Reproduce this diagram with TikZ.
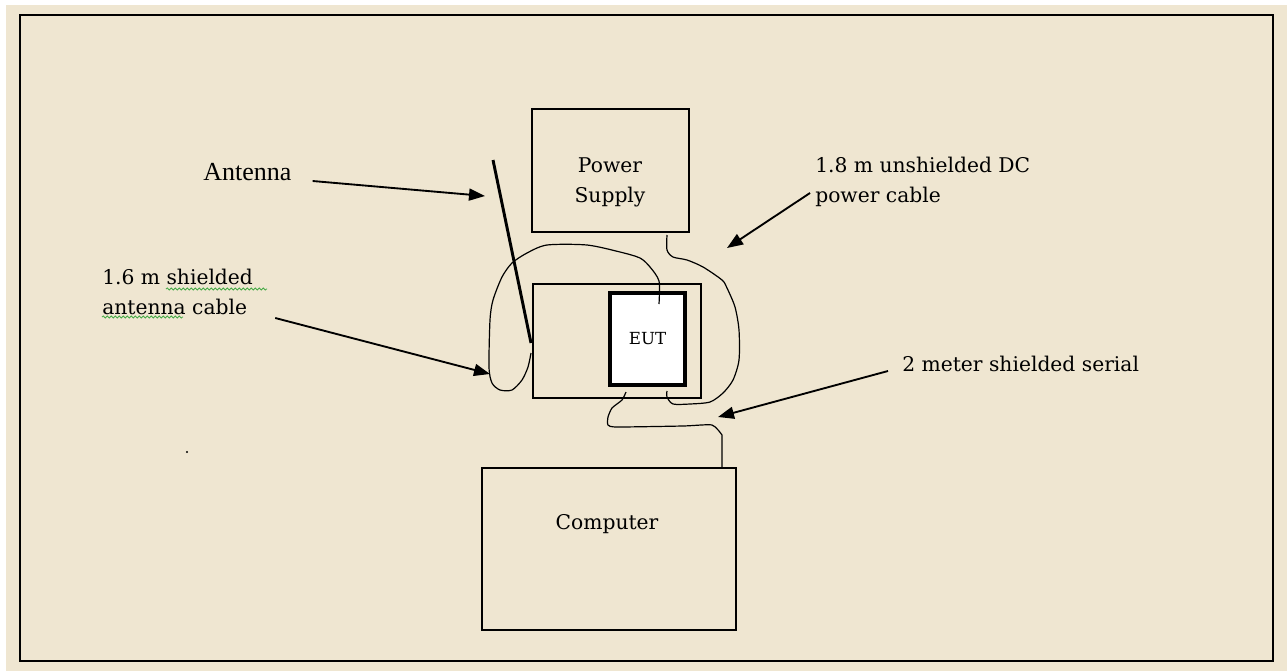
\documentclass[tikz,border=0pt]{standalone}
\usepackage{fontspec}
\setmainfont{DejaVu Serif}
\newfontfamily\timesfont{Liberation Serif}
\usetikzlibrary{arrows.meta, calc, decorations.pathmorphing}
\definecolor{paper}{RGB}{239,230,209}
\definecolor{squiggle}{RGB}{70,170,70}
\tikzset{
  box/.style={draw, line width=1.2pt, inner sep=0pt},
  eutbox/.style={draw, fill=white, line width=3pt, inner sep=0pt},
  lbl/.style={inner sep=0pt, align=left, font=\fontsize{15.2}{22.5}\selectfont},
  pointer/.style={line width=1.4pt, -{Triangle[length=12pt,width=9pt]}},
  cable/.style={line width=0.9pt, line join=round},
  spell/.style={squiggle, line width=0.6pt, decorate,
    decoration={snake, segment length=3pt, amplitude=0.8pt}}
}

\begin{document}
\begin{tikzpicture}[x=0.75pt, y=-0.75pt]
% page and frame
\fill[white] (0,0) rectangle (1287,671);
\fill[paper] (6,5) rectangle (1287,671);
\useasboundingbox (0,0) rectangle (1287,671);
\draw[line width=1.5pt] (20,15) rectangle (1273,661);

% equipment
\node[box, minimum width=117.75pt, minimum height=92.25pt] (psu) at (610.5,170.5) {};
\node[lbl, align=center] (psuText) at (610,182) {Power\\Supply};
\node[box, minimum width=126pt, minimum height=85.5pt] (table) at (617,341) {};
\node[eutbox, minimum width=56.25pt, minimum height=69pt] (eut) at (647.5,339)
  {\fontsize{12.5}{14}\selectfont EUT};
\node[box, minimum width=190.5pt, minimum height=121.5pt] (pc) at (609,549) {};
\node[lbl] (pcText) at (607,524) {Computer};

% antenna whip
\coordinate (antTop) at (493,160);
\coordinate (antBase) at (531,343);
\draw[line width=2.2pt] (antTop) -- (antBase);

% cables
\draw[cable] plot[smooth, tension=0.45] coordinates {(659,304) (659,281) (650,267)
  (640,258) (620,252) (587,245) (547,245) (527,253) (512,263) (502,277) (493,300)
  (490,320) (489,367) (492,383) (500,390) (512,390) (522,380) (528,367) (531,353)};
\draw[cable] plot[smooth, tension=0.45] coordinates {(667,235) (667,250) (673,257)
  (687,260) (703,267) (722,280) (727,288) (735,307) (739,330) (739,360) (733,380)
  (723,393) (710,402) (690,404) (673,404) (667,397) (667,391)};
\draw[cable] plot[smooth, tension=0.35] coordinates {(626,392) (622,400) (612,408)
  (608,417) (608,425) (617,427) (683,426) (712,425) (722,435)} -- (722,468);

% labels
\node[lbl, font=\timesfont\fontsize{19.5}{22}\selectfont, anchor=west] (antLbl) at (203,172) {Antenna};
\node[lbl, anchor=west] (coaxLbl) at (102,292) {1.6 m shielded\\antenna cable};
\node[lbl, anchor=west] (dcLbl) at (815,182) {1.8 m unshielded DC\\power cable};
\node[lbl, anchor=west] (serLbl) at (902,364) {2 meter shielded serial};
\draw[spell] (166,289) -- (267,289);
\draw[spell] (102,317) -- (183,317);

% pointers
\coordinate (antTip) at (485,196);
\coordinate (coaxTip) at (490,374);
\coordinate (dcTip) at (727,248);
\coordinate (serTip) at (718,417);
\draw[pointer] ($(antLbl.east)+(21,9)$) -- (antTip);
\draw[pointer] ($(coaxLbl.east)+(22,26)$) -- (coaxTip);
\draw[pointer] ($(dcLbl.west)+(-5,11)$) -- (dcTip);
\draw[pointer] ($(serLbl.west)+(-14,7)$) -- (serTip);

\fill (187,452) circle (0.8pt);
\end{tikzpicture}
\end{document}
